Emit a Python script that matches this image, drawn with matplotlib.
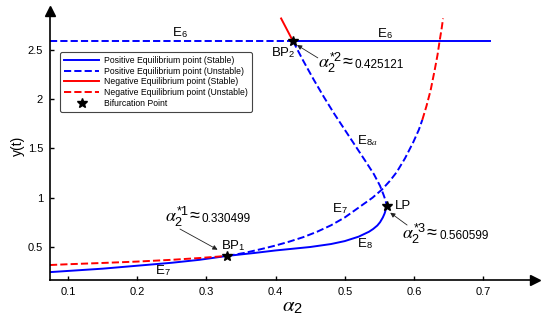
import matplotlib
matplotlib.use('Agg')
import matplotlib.pyplot as plt
from matplotlib.lines import Line2D

plt.rcParams['font.family'] = ['Liberation Sans', 'DejaVu Sans']
plt.rcParams['mathtext.fontset'] = 'custom'
plt.rcParams['mathtext.rm'] = 'Liberation Sans'
plt.rcParams['mathtext.it'] = 'STIXGeneral:italic'
plt.rcParams['mathtext.bf'] = 'Liberation Sans:bold'
plt.rcParams['mathtext.fallback'] = 'stix'

# E6 branch (horizontal)
e6_y = 2.59
e6_unstable_a = [0.074, 0.425121]
e6_stable_a = [0.425121, 0.71]

# E8 branch, positive stable (solid blue), left edge -> LP
e8_a = [0.074, 0.10, 0.15, 0.20, 0.25, 0.29, 0.330499, 0.37, 0.40, 0.45, 0.48,
        0.50, 0.52, 0.535, 0.541, 0.547, 0.551, 0.555, 0.5575, 0.559, 0.560599]
e8_y = [0.245, 0.257, 0.28, 0.31, 0.34, 0.37, 0.41, 0.44, 0.465, 0.50, 0.53,
        0.56, 0.605, 0.655, 0.683, 0.718, 0.752, 0.80, 0.84, 0.875, 0.92]

# E7 branch, negative unstable (red dashed) up to BP1
e7_neg_a = [0.074, 0.10, 0.15, 0.20, 0.25, 0.29, 0.330499]
e7_neg_y = [0.317, 0.325, 0.338, 0.352, 0.37, 0.388, 0.41]

# E7 branch, positive unstable (blue dashed) BP1 -> upper
e7_pos_a = [0.330499, 0.355, 0.38, 0.40, 0.42, 0.44, 0.46, 0.48, 0.50, 0.52,
            0.54, 0.554, 0.565, 0.575, 0.587, 0.599, 0.607, 0.612]
e7_pos_y = [0.41, 0.44, 0.48, 0.515, 0.555, 0.60, 0.655, 0.72, 0.80, 0.90,
            1.00, 1.085, 1.17, 1.26, 1.40, 1.565, 1.69, 1.79]

# E7 branch, negative unstable (red dashed) top part
e7_top_a = [0.612, 0.618, 0.624, 0.630, 0.634, 0.637, 0.640, 0.642]
e7_top_y = [1.79, 1.93, 2.09, 2.30, 2.45, 2.59, 2.72, 2.82]

# E8a branch, positive unstable (blue dashed) BP2 -> LP
e8a_a = [0.425121, 0.44, 0.455, 0.47, 0.485, 0.50, 0.515, 0.53, 0.542, 0.551,
         0.556, 0.559, 0.560599]
e8a_y = [2.59, 2.39, 2.20, 2.02, 1.85, 1.69, 1.53, 1.37, 1.24, 1.12,
         1.03, 0.97, 0.92]

# E8a above BP2, negative stable (red solid)
e8a_neg_a = [0.408, 0.425121]
e8a_neg_y = [2.82, 2.59]

# special points
bp_a = [0.330499, 0.425121, 0.560599]
bp_y = [0.41, 2.59, 0.92]

blue = '#0000ff'
red = '#ff0000'
lw = 1.4

fig = plt.figure(figsize=(5.5, 3.24), dpi=100)
ax = fig.add_axes([0.0909, 0.1358, 0.882, 0.83])

ax.plot(e6_unstable_a, [e6_y, e6_y], '--', color=blue, lw=lw)
ax.plot(e6_stable_a, [e6_y, e6_y], '-', color=blue, lw=lw)
ax.plot(e8_a, e8_y, '-', color=blue, lw=lw)
ax.plot(e7_neg_a, e7_neg_y, '--', color=red, lw=lw)
ax.plot(e7_pos_a, e7_pos_y, '--', color=blue, lw=lw)
ax.plot(e7_top_a, e7_top_y, '--', color=red, lw=lw)
ax.plot(e8a_a, e8a_y, '--', color=blue, lw=lw)
ax.plot(e8a_neg_a, e8a_neg_y, '-', color=red, lw=lw)
ax.plot(bp_a, bp_y, '*', color='k', ms=7, zorder=5)

ax.set_xlim(0.074, 0.775)
ax.set_ylim(0.165, 2.895)
ax.set_xticks([0.1, 0.2, 0.3, 0.4, 0.5, 0.6, 0.7])
ax.set_xticklabels(['0.1', '0.2', '0.3', '0.4', '0.5', '0.6', '0.7'])
ax.set_yticks([0.5, 1, 1.5, 2, 2.5])
ax.set_yticklabels(['0.5', '1', '1.5', '2', '2.5'])
ax.tick_params(direction='in', length=3, width=1, labelsize=8, pad=5)

for s in ['top', 'right']:
    ax.spines[s].set_visible(False)
for s in ['left', 'bottom']:
    ax.spines[s].set_linewidth(1.2)
# arrow heads at the axis ends
ax.plot(1, 0, '>k', ms=7, transform=ax.transAxes, clip_on=False)
ax.plot(0, 1, '^k', ms=7, transform=ax.transAxes, clip_on=False)

ax.set_xlabel(r'$\alpha_2$', fontsize=15, labelpad=0)
ax.set_ylabel('y(t)', fontsize=10, labelpad=2)

# labels of branches
fs = 9.5
ax.text(0.261, 2.68, r'E$_6$', fontsize=fs, ha='center', va='center')
ax.text(0.558, 2.67, r'E$_6$', fontsize=fs, ha='center', va='center')
ax.text(0.237, 0.257, r'E$_7$', fontsize=fs, ha='center', va='center')
ax.text(0.493, 0.885, r'E$_7$', fontsize=fs, ha='center', va='center')
ax.text(0.529, 0.53, r'E$_8$', fontsize=fs, ha='center', va='center')
ax.text(0.532, 1.585, r'E$_{8a}$', fontsize=fs, ha='center', va='center')
ax.text(0.3215, 0.51, r'BP$_1$', fontsize=fs, ha='left', va='center')
ax.text(0.3935, 2.478, r'BP$_2$', fontsize=fs, ha='left', va='center')
ax.text(0.5725, 0.916, 'LP', fontsize=fs, ha='left', va='center')

# critical value annotations
arrow = dict(arrowstyle='-|>', color='#222222', lw=0.6, mutation_scale=7,
             shrinkA=0, shrinkB=2)
ax.annotate('', xy=(0.3197, 0.459), xytext=(0.2618, 0.6825), arrowprops=arrow)
ax.annotate('', xy=(0.4275, 2.565), xytext=(0.461, 2.42), arrowprops=arrow)
ax.annotate('', xy=(0.5624, 0.865), xytext=(0.590, 0.723), arrowprops=arrow)

crit = [(0.240, 0.804, '1', '0.330499'),
        (0.461, 2.366, '2', '0.425121'),
        (0.583, 0.632, '3', '0.560599')]
for xa, ya, k, val in crit:
    t = ax.text(xa, ya, r'$\alpha_2^{*%s}\!\approx$' % k, fontsize=13,
                ha='left', va='center')
    ax.annotate(val, xy=(1, 0.42), xycoords=t, xytext=(1, 0),
                textcoords='offset points', fontsize=8.5, ha='left',
                va='center')

handles = [Line2D([], [], color=blue, ls='-', lw=lw),
           Line2D([], [], color=blue, ls='--', lw=lw),
           Line2D([], [], color=red, ls='-', lw=lw),
           Line2D([], [], color=red, ls='--', lw=lw),
           Line2D([], [], color='k', ls='none', marker='*', ms=7)]
names = ['Positive Equilibrium point (Stable)',
         'Positive Equilibrium point (Unstable)',
         'Negative Equilibrium point (Stable)',
         'Negative Equilibrium point (Unstable)',
         'Bifurcation Point']
leg = ax.legend(handles, names, loc='upper left', bbox_to_anchor=(0.0206, 0.848),
                borderaxespad=0, fontsize=6.2, handlelength=4.1,
                handletextpad=0.6, labelspacing=0.2, borderpad=0.45,
                fancybox=True, framealpha=1, edgecolor='#444444')
leg.get_frame().set_linewidth(0.8)

fig.savefig('out.png', dpi=100)
